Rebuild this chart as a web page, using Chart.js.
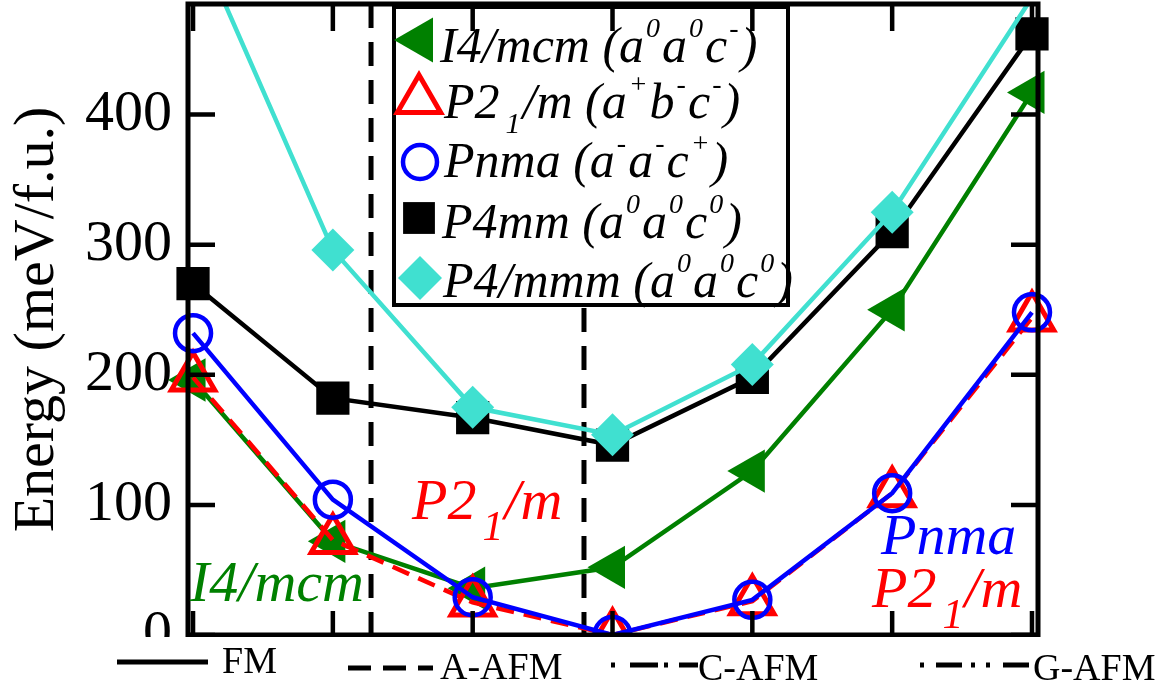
<!DOCTYPE html>
<html>
<head>
<meta charset="utf-8">
<script src="https://cdn.jsdelivr.net/npm/chart.js@4.4.0/dist/chart.umd.min.js"></script>
<style>
html,body{margin:0;padding:0;background:#fff;}
body{width:1172px;height:684px;position:relative;overflow:hidden;font-family:'Liberation Serif','Times New Roman',serif;color:#000;}
#clip{position:absolute;left:0;top:0;width:1172px;height:637px;overflow:hidden;}
#box{position:absolute;left:0;top:0;width:1172px;height:700px;}
.t{position:absolute;white-space:nowrap;line-height:1;}
.it{font-style:italic;}
.lg{font-size:50px;}
.lg .sp{font-size:28px;position:relative;top:-25px;margin:0 2px 0 2px;}
.lg .sb{font-size:30px;position:relative;top:15px;margin:0 2px 0 6px;}
.an{font-size:58px;}
.an .sb{font-size:42px;position:relative;top:21px;margin:0 1px 0 6px;}
.bt{font-size:38px;}
</style>
</head>
<body>
<div id="clip"><div id="box"><canvas id="c"></canvas></div></div>

<!-- legend text -->
<div class="t lg it" style="left:440px;top:20px">I4/mcm (a<span class="sp">0</span>a<span class="sp">0</span>c<span class="sp">-</span>)</div>
<div class="t lg it" style="left:444px;top:76px">P2<span class="sb">1</span>/m (a<span class="sp">+</span>b<span class="sp">-</span>c<span class="sp">-</span>)</div>
<div class="t lg it" style="left:444px;top:135px">Pnma (a<span class="sp">-</span>a<span class="sp">-</span>c<span class="sp">+</span>)</div>
<div class="t lg it" style="left:442px;top:196px">P4mm (a<span class="sp">0</span>a<span class="sp">0</span>c<span class="sp">0</span>)</div>
<div class="t lg it" style="left:443px;top:255px">P4/mmm (a<span class="sp">0</span>a<span class="sp">0</span>c<span class="sp">0</span>)</div>

<!-- in-plot annotations -->
<div class="t an it" style="left:412px;top:471px;color:#ff0000">P2<span class="sb">1</span>/m</div>
<div class="t an it" style="left:190px;top:553px;color:#008000">I4/mcm</div>
<div class="t an it" style="left:881px;top:506px;color:#0000ff">Pnma</div>
<div class="t an it" style="left:872px;top:559px;color:#ff0000">P2<span class="sb">1</span>/m</div>

<!-- magnetic order line-style key -->
<svg style="position:absolute;left:0;top:0" width="1172" height="684">
  <line x1="117" y1="662" x2="208" y2="662" stroke="#000" stroke-width="5"/>
  <line x1="348" y1="668" x2="433" y2="668" stroke="#000" stroke-width="5" stroke-dasharray="23 12"/>
  <line x1="611" y1="665" x2="698" y2="665" stroke="#000" stroke-width="5" stroke-dasharray="4 15 28 6 4 11 20"/>
  <line x1="920" y1="665" x2="1030" y2="665" stroke="#000" stroke-width="5" stroke-dasharray="4 12 26 9 4 11 4 13 26"/>
</svg>
<div class="t bt" style="left:222px;top:641px">FM</div>
<div class="t bt" style="left:440px;top:647px">A-AFM</div>
<div class="t bt" style="left:698px;top:648px">C-AFM</div>
<div class="t bt" style="left:1033px;top:648px">G-AFM</div>

<script>
// ---- data ----
const xPositions = [0, 1, 2, 3, 4, 5, 6];
const yTicks = [0, 100, 200, 300, 400];
const yTickLabels = ['0', '100', '200', '300', '400'];
const i4mcm = [196, 72, 36, 52, 126, 250, 417];
const p21m  = [198, 73, 25, 0, 26, 109, 244];
const pnma  = [232, 104, 29, 0, 27, 109, 248];
const p4mm  = [270, 182, 167, 146, 198, 310, 462];
const p4mmm = [541, 296, 175, 154, 208, 325, 490];
const boundaries = [1.273, 2.796];
const seriesLabels = ['I4/mcm', 'P2_1/m', 'Pnma', 'P4mm', 'P4/mmm'];

const yMin = 0, yMax = 485;
const xMin = -0.036, xMax = 6.043;
const FONT = "'Liberation Serif','Times New Roman',serif";

const pts = arr => arr.map((v, i) => ({x: xPositions[i], y: v}));
const hideAbove = r => c => (c.raw && c.raw.y > yMax ? 0 : r);
const clipBox = {left: 60, top: 0, right: 60, bottom: 60};

const legendItems = [
  {pointStyle: 'triangle', rotation: -90, radius: 26, fill: '#008000', stroke: '#008000', bw: 0, x: 420, y: 40},
  {pointStyle: 'triangle', rotation: 0, radius: 25, fill: 'rgba(0,0,0,0)', stroke: '#ff0000', bw: 5, x: 419, y: 100},
  {pointStyle: 'circle', rotation: 0, radius: 17, fill: 'rgba(0,0,0,0)', stroke: '#0000ff', bw: 4.5, x: 420, y: 162},
  {pointStyle: 'rect', rotation: 0, radius: 22.5, fill: '#000', stroke: '#000', bw: 0, x: 419, y: 218},
  {pointStyle: 'rectRot', rotation: 0, radius: 22, fill: '#40e0d0', stroke: '#40e0d0', bw: 0, x: 420, y: 278}
];

const framePlugin = {
  id: 'frame',
  beforeDatasetsDraw(chart) {
    const {ctx, chartArea: a, scales: {y}} = chart;
    ctx.save();
    ctx.fillStyle = '#000';
    ctx.font = 'normal 58px ' + FONT;
    ctx.textAlign = 'right';
    ctx.textBaseline = 'middle';
    yTicks.forEach((v, i) => ctx.fillText(yTickLabels[i], a.left - 16, y.getPixelForValue(v)));
    ctx.restore();
  },
  afterDatasetsDraw(chart) {
    const {ctx, chartArea: a, scales: {x, y}} = chart;
    ctx.save();
    // legend box
    ctx.fillStyle = '#fff';
    ctx.fillRect(392, 5, 398, 302);
    ctx.strokeStyle = '#000';
    ctx.lineWidth = 4;
    ctx.strokeRect(394, 7, 394, 298);
    legendItems.forEach(it => {
      ctx.fillStyle = it.fill;
      ctx.strokeStyle = it.stroke;
      ctx.lineWidth = it.bw;
      Chart.helpers.drawPoint(ctx, {pointStyle: it.pointStyle, rotation: it.rotation, radius: it.radius, borderWidth: it.bw}, it.x, it.y);
    });
    // frame
    ctx.strokeStyle = '#000';
    ctx.lineWidth = 5;
    ctx.strokeRect(a.left, a.top, a.right - a.left, a.bottom - a.top);
    // inward ticks
    ctx.lineWidth = 4.5;
    ctx.beginPath();
    yTicks.forEach(v => {
      const py = y.getPixelForValue(v);
      ctx.moveTo(a.left, py); ctx.lineTo(a.left + 27, py);
      ctx.moveTo(a.right, py); ctx.lineTo(a.right - 27, py);
    });
    xPositions.forEach(v => {
      const px = x.getPixelForValue(v);
      ctx.moveTo(px, a.bottom); ctx.lineTo(px, a.bottom - 24);
      ctx.moveTo(px, a.top); ctx.lineTo(px, a.top + 27);
    });
    ctx.stroke();
    ctx.restore();
  }
};

const datasets = [
  {label: seriesLabels[2], data: pts(pnma), borderColor: '#0000ff', borderWidth: 4.5,
   pointStyle: 'circle', pointRadius: 18, pointBorderWidth: 4.5, pointBorderColor: '#0000ff',
   pointBackgroundColor: 'rgba(0,0,0,0)', order: 1, clip: clipBox},
  {label: seriesLabels[1], data: pts(p21m), borderColor: '#ff0000', borderWidth: 4.5, borderDash: [18, 10],
   pointStyle: 'triangle', pointRadius: 25, pointBorderWidth: 5, pointBorderColor: '#ff0000',
   pointBackgroundColor: 'rgba(0,0,0,0)', order: 2, clip: clipBox},
  {label: seriesLabels[0], data: pts(i4mcm), borderColor: '#008000', borderWidth: 4.5,
   pointStyle: 'triangle', pointRotation: -90, pointRadius: 25, pointBorderWidth: 0,
   pointBackgroundColor: '#008000', pointBorderColor: '#008000', order: 3, clip: clipBox},
  {label: seriesLabels[4], data: pts(p4mmm), borderColor: '#40e0d0', borderWidth: 4.5,
   pointStyle: 'rectRot', pointRadius: hideAbove(21.5), pointBorderWidth: 0,
   pointBackgroundColor: '#40e0d0', pointBorderColor: '#40e0d0', order: 4, clip: clipBox},
  {label: seriesLabels[3], data: pts(p4mm), borderColor: '#000000', borderWidth: 4.5,
   pointStyle: 'rect', pointRadius: 23.5, pointBorderWidth: 0,
   pointBackgroundColor: '#000000', pointBorderColor: '#000000', order: 5, clip: clipBox}
];
boundaries.forEach(b => datasets.push({
  label: '', data: [{x: b, y: yMax}, {x: b, y: yMin}], borderColor: '#000', borderWidth: 5,
  borderDash: [24, 14], pointRadius: 0, order: 6, clip: 0
}));

new Chart(document.getElementById('c'), {
  type: 'line',
  data: {datasets},
  options: {
    responsive: true,
    maintainAspectRatio: false,
    animation: false,
    devicePixelRatio: 1,
    events: [],
    elements: {line: {tension: 0}},
    layout: {autoPadding: false, padding: {left: 0, top: 4, right: 134, bottom: 65}},
    plugins: {legend: {display: false}, tooltip: {enabled: false}},
    scales: {
      x: {type: 'linear', min: xMin, max: xMax, display: false},
      y: {
        type: 'linear', position: 'left', min: yMin, max: yMax,
        grid: {display: false, drawTicks: false},
        border: {display: false},
        afterBuildTicks: s => { s.ticks = yTicks.map(v => ({value: v})); },
        afterFit: s => { s.width = 188; s.paddingTop = 0; s.paddingBottom = 0; },
        ticks: {display: false},
        title: {display: true, text: 'Energy (meV/f.u.)', color: '#000',
                font: {family: FONT, size: 58, weight: 'normal'}, padding: {top: 3, bottom: 0}}
      }
    }
  },
  plugins: [framePlugin]
});
</script>
</body>
</html>
